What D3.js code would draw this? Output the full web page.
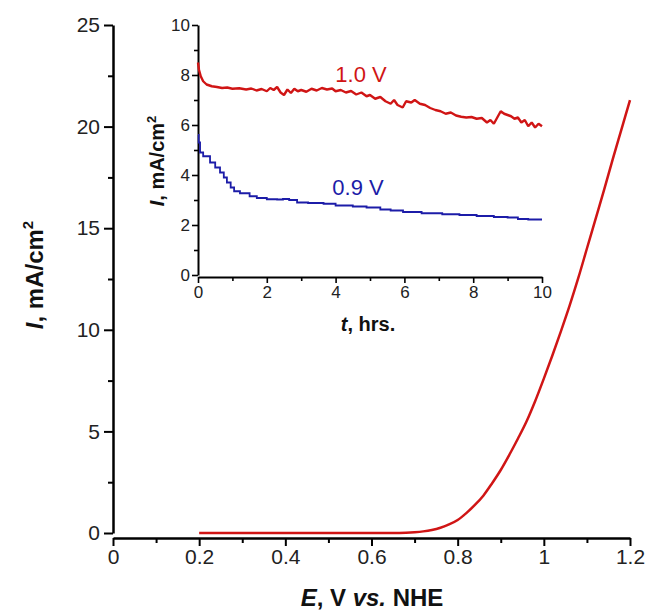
<!DOCTYPE html>
<html>
<head>
<meta charset="utf-8">
<script src="https://cdn.jsdelivr.net/npm/d3@7"></script>
<style>
  body { margin: 0; background: #fff; }
  svg text { font-family: "Liberation Sans", Arial, Helvetica, sans-serif; }
</style>
</head>
<body>
<div id="chart"></div>
<script>
// main polarization curve: potential (V vs NHE) and current density (mA/cm2)
var potential = [0.2, 0.3, 0.4, 0.5, 0.6, 0.65, 0.68, 0.70, 0.72, 0.74, 0.76, 0.78, 0.80, 0.82, 0.84,
    0.86, 0.88, 0.90, 0.92, 0.94, 0.96, 0.98, 1.00, 1.02, 1.04, 1.06, 1.08, 1.10, 1.12, 1.14,
    1.16, 1.18, 1.20];
var current = [0, 0, 0, 0, 0, 0, 0.015, 0.04, 0.08, 0.15, 0.26, 0.42, 0.64, 0.98, 1.38,
    1.85, 2.45, 3.1, 3.85, 4.65, 5.5, 6.5, 7.6, 8.75, 9.95, 11.2, 12.55, 14.0, 15.45, 16.9,
    18.4, 19.85, 21.3];

// inset: chronoamperometry at 1.0 V
var t10 = [0, 0.03, 0.08, 0.15, 0.25, 0.4, 0.55, 0.7, 0.85, 1.0, 1.2, 1.4, 1.55, 1.7, 1.85,
    2.0, 2.1, 2.2, 2.3, 2.4, 2.5, 2.6, 2.7, 2.8, 2.9, 3.0, 3.15, 3.3, 3.45, 3.6, 3.75, 3.9,
    4.0, 4.15, 4.3, 4.45, 4.6, 4.75, 4.9, 5.0, 5.15, 5.3, 5.45, 5.6, 5.7, 5.8, 5.95, 6.05,
    6.2, 6.3, 6.45, 6.6, 6.75, 6.9, 7.05, 7.2, 7.35, 7.5, 7.65, 7.8, 7.95, 8.1, 8.25, 8.4,
    8.5, 8.6, 8.7, 8.8, 8.9, 9.0, 9.1, 9.2, 9.3, 9.4, 9.5, 9.6, 9.7, 9.8, 9.9, 10.0];
var i10 = [8.5, 8.2, 7.95, 7.75, 7.62, 7.55, 7.52, 7.48, 7.5, 7.45, 7.47, 7.42, 7.46, 7.38, 7.44,
    7.35, 7.48, 7.4, 7.52, 7.3, 7.2, 7.42, 7.28, 7.45, 7.35, 7.4, 7.33, 7.45, 7.38, 7.48, 7.42, 7.46,
    7.35, 7.4, 7.3, 7.36, 7.22, 7.3, 7.15, 7.2, 7.05, 7.12, 6.95, 6.85, 7.0, 6.8, 6.7, 6.95,
    6.9, 7.0, 6.85, 6.8, 6.68, 6.6, 6.55, 6.45, 6.5, 6.38, 6.33, 6.3, 6.32, 6.25, 6.28, 6.1,
    6.2, 6.05, 6.3, 6.55, 6.45, 6.4, 6.35, 6.25, 6.3, 6.1, 6.2, 5.95, 6.1, 5.9, 6.05, 5.95];

// inset: chronoamperometry at 0.9 V
var t09 = [0, 0.02, 0.06, 0.15, 0.35, 0.5, 0.64, 0.75, 0.84, 0.95, 1.05, 1.22, 1.5, 1.71, 2.0,
    2.3, 2.47, 2.65, 2.88, 3.2, 3.65, 4.0, 4.5, 4.9, 5.3, 5.6, 5.96, 6.5, 7.1, 7.6, 8.1,
    8.6, 9.0, 9.3, 9.6, 10.0];
var i09 = [5.6, 5.3, 4.9, 4.75, 4.5, 4.3, 4.1, 3.9, 3.7, 3.5, 3.35, 3.27, 3.15, 3.08, 3.03,
    3.02, 3.04, 3.0, 2.9, 2.88, 2.85, 2.78, 2.74, 2.7, 2.62, 2.58, 2.52, 2.47, 2.43, 2.4, 2.36,
    2.32, 2.3, 2.24, 2.22, 2.22];

var mainXTicks = [0, 0.2, 0.4, 0.6, 0.8, 1, 1.2];
var mainYTicks = [0, 5, 10, 15, 20, 25];
var insetTicks = [0, 2, 4, 6, 8, 10];

var width = 655, height = 616;
var red = '#d01515', blue = '#1c1ca8';

var svg = d3.select('#chart')
    .append('svg')
    .attr('width', width)
    .attr('height', height);

svg.append('rect').attr('width', width).attr('height', height).attr('fill', '#fff');

// scales
var xScale = d3.scaleLinear().domain([0, 1.2]).range([113, 630]);
var yScale = d3.scaleLinear().domain([0, 25]).range([533, 25]);
var txScale = d3.scaleLinear().domain([0, 10]).range([198, 542]);
var tyScale = d3.scaleLinear().domain([0, 10]).range([275, 25]);

function styleAxis(g, w, fs) {
    g.select('.domain').attr('stroke', '#000').attr('stroke-width', w);
    g.selectAll('.tick line').attr('stroke', '#000').attr('stroke-width', w * 0.8);
    g.selectAll('.tick text').attr('fill', '#222').style('font-size', fs + 'px');
}

// main axes
var xAxisG = svg.append('g')
    .attr('transform', 'translate(0,538)')
    .call(d3.axisBottom(xScale).tickValues(mainXTicks).tickFormat(d3.format('')).tickSize(8).tickSizeOuter(0).tickPadding(3));
styleAxis(xAxisG, 2.5, 21);
svg.append('g')
    .attr('transform', 'translate(0,538)')
    .call(d3.axisBottom(xScale).tickValues([0.1, 0.3, 0.5, 0.7, 0.9, 1.1]).tickFormat('').tickSize(5))
    .call(g => g.select('.domain').remove())
    .selectAll('line').attr('stroke', '#000').attr('stroke-width', 2);

var yAxisG = svg.append('g')
    .attr('transform', 'translate(113,0)')
    .call(d3.axisLeft(yScale).tickValues(mainYTicks).tickSize(9).tickSizeOuter(0).tickPadding(4));
styleAxis(yAxisG, 2.5, 21);
svg.append('g')
    .attr('transform', 'translate(113,0)')
    .call(d3.axisLeft(yScale).tickValues([2.5, 7.5, 12.5, 17.5, 22.5]).tickFormat('').tickSize(5))
    .call(g => g.select('.domain').remove())
    .selectAll('line').attr('stroke', '#000').attr('stroke-width', 2);

// main curve
var mainLine = d3.line()
    .x((d, i) => xScale(potential[i]))
    .y(d => yScale(d))
    .curve(d3.curveMonotoneX);
svg.append('path')
    .datum(current)
    .attr('d', mainLine)
    .attr('fill', 'none')
    .attr('stroke', red)
    .attr('stroke-width', 2.5);

// main axis titles
var xTitle = svg.append('text')
    .attr('x', 372).attr('y', 606)
    .attr('text-anchor', 'middle')
    .style('font-size', '24px').style('font-weight', 'bold').attr('fill', '#111');
xTitle.append('tspan').style('font-style', 'italic').text('E');
xTitle.append('tspan').text(', V ');
xTitle.append('tspan').style('font-style', 'italic').text('vs.');
xTitle.append('tspan').text(' NHE');

var yTitle = svg.append('text')
    .attr('transform', 'translate(43,275) rotate(-90)')
    .attr('text-anchor', 'middle')
    .style('font-size', '24px').style('font-weight', 'bold').attr('fill', '#111');
yTitle.append('tspan').style('font-style', 'italic').text('I');
yTitle.append('tspan').text(', mA/cm');
yTitle.append('tspan').attr('dy', -10).style('font-size', '15px').text('2');

// inset axes
var txAxisG = svg.append('g')
    .attr('transform', 'translate(0,277)')
    .call(d3.axisBottom(txScale).tickValues(insetTicks).tickSize(6).tickSizeOuter(0).tickPadding(3));
styleAxis(txAxisG, 2, 17);
svg.append('g')
    .attr('transform', 'translate(0,277)')
    .call(d3.axisBottom(txScale).tickValues([1, 3, 5, 7, 9]).tickFormat('').tickSize(4))
    .call(g => g.select('.domain').remove())
    .selectAll('line').attr('stroke', '#000').attr('stroke-width', 1.6);

var tyAxisG = svg.append('g')
    .attr('transform', 'translate(198,0)')
    .call(d3.axisLeft(tyScale).tickValues(insetTicks).tickSize(6).tickSizeOuter(0).tickPadding(2));
styleAxis(tyAxisG, 2, 17);
svg.append('g')
    .attr('transform', 'translate(198,0)')
    .call(d3.axisLeft(tyScale).tickValues([1, 3, 5, 7, 9]).tickFormat('').tickSize(4))
    .call(g => g.select('.domain').remove())
    .selectAll('line').attr('stroke', '#000').attr('stroke-width', 1.6);

// inset curves
svg.append('path')
    .datum(i10)
    .attr('d', d3.line().x((d, i) => txScale(t10[i])).y(d => tyScale(d)))
    .attr('fill', 'none')
    .attr('stroke', red)
    .attr('stroke-width', 2.4)
    .attr('stroke-linejoin', 'bevel');

svg.append('path')
    .datum(i09)
    .attr('d', d3.line().x((d, i) => txScale(t09[i])).y(d => tyScale(d)).curve(d3.curveStepAfter))
    .attr('fill', 'none')
    .attr('stroke', blue)
    .attr('stroke-width', 1.8);

svg.append('text')
    .attr('x', 361).attr('y', 82)
    .attr('text-anchor', 'middle')
    .style('font-size', '22px').attr('fill', red)
    .text('1.0 V');
svg.append('text')
    .attr('x', 358).attr('y', 195)
    .attr('text-anchor', 'middle')
    .style('font-size', '22px').attr('fill', blue)
    .text('0.9 V');

// inset titles
var txTitle = svg.append('text')
    .attr('x', 368).attr('y', 331)
    .attr('text-anchor', 'middle')
    .style('font-size', '20px').style('font-weight', 'bold').attr('fill', '#111');
txTitle.append('tspan').style('font-style', 'italic').text('t');
txTitle.append('tspan').text(', hrs.');

var tyTitle = svg.append('text')
    .attr('transform', 'translate(164,161) rotate(-90)')
    .attr('text-anchor', 'middle')
    .style('font-size', '20px').style('font-weight', 'bold').attr('fill', '#111');
tyTitle.append('tspan').style('font-style', 'italic').text('I');
tyTitle.append('tspan').text(', mA/cm');
tyTitle.append('tspan').attr('dy', -8).style('font-size', '13px').text('2');
</script>
</body>
</html>
